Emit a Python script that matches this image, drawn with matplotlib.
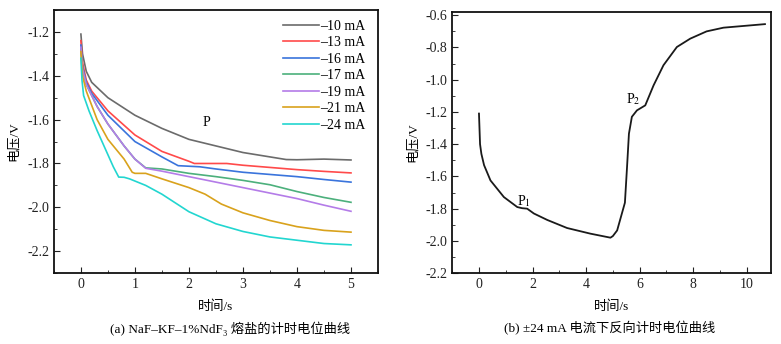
import matplotlib.pyplot as plt
from matplotlib.ticker import MultipleLocator

plt.rcParams['font.family'] = ['Liberation Serif', 'Noto Sans CJK SC',
                               'DejaVu Sans']
plt.rcParams['mathtext.fontset'] = 'stix'
plt.rcParams['axes.unicode_minus'] = False

# (a) 不同电流下的计时电位曲线
labels_a = ['–10 mA', '–13 mA', '–16 mA', '–17 mA', '–19 mA', '–21 mA', '–24 mA']
colores_a = ['#6b6b6b', '#ff4a4a', '#3a74dc', '#4cb07c', '#b47ce8', '#d9a21c', '#22d6d0']

t_10 = [0, 0.03, 0.1, 0.2, 0.5, 1, 1.5, 2, 2.5, 3, 3.5, 3.8, 4, 4.5, 5]
v_10 = [-1.21, -1.30, -1.38, -1.43, -1.50, -1.58, -1.64, -1.69, -1.72, -1.75,
        -1.77, -1.782, -1.783, -1.78, -1.784]
t_13 = [0, 0.03, 0.1, 0.2, 0.5, 1, 1.5, 2, 2.1, 2.5, 2.7, 3, 3.5, 4, 4.5, 5]
v_13 = [-1.24, -1.34, -1.42, -1.47, -1.56, -1.67, -1.745, -1.79, -1.80,
        -1.80, -1.80, -1.808, -1.818, -1.828, -1.836, -1.843]
t_16 = [0, 0.03, 0.1, 0.2, 0.5, 1, 1.5, 1.8, 2.2, 2.5, 3, 3.5, 4, 4.5, 5]
v_16 = [-1.26, -1.36, -1.43, -1.48, -1.58, -1.70, -1.77, -1.81, -1.815,
        -1.825, -1.84, -1.85, -1.86, -1.873, -1.885]
t_17 = [0, 0.03, 0.1, 0.3, 0.5, 0.8, 1, 1.2, 1.5, 2, 2.5, 3, 3.5, 4, 4.5, 5]
v_17 = [-1.28, -1.37, -1.44, -1.54, -1.62, -1.72, -1.78, -1.82, -1.825,
        -1.845, -1.86, -1.877, -1.897, -1.928, -1.955, -1.977]
t_19 = [0, 0.03, 0.1, 0.3, 0.5, 0.8, 1, 1.2, 1.5, 2, 2.5, 3, 3.5, 4, 4.5, 5]
v_19 = [-1.27, -1.37, -1.44, -1.54, -1.62, -1.72, -1.78, -1.822, -1.835,
        -1.86, -1.885, -1.91, -1.935, -1.96, -1.99, -2.018]
t_21 = [0, 0.03, 0.1, 0.3, 0.5, 0.8, 0.95, 1, 1.2, 1.5, 2, 2.3, 2.6, 3, 3.5,
        4, 4.5, 5]
v_21 = [-1.29, -1.40, -1.47, -1.60, -1.69, -1.78, -1.84, -1.845, -1.845,
        -1.87, -1.91, -1.94, -1.985, -2.025, -2.06, -2.088, -2.105, -2.113]
t_24 = [0, 0.02, 0.05, 0.15, 0.3, 0.5, 0.6, 0.7, 0.8, 0.9, 1.2, 1.5, 2, 2.5,
        3, 3.5, 4, 4.5, 5]
v_24 = [-1.32, -1.42, -1.49, -1.56, -1.65, -1.76, -1.815, -1.862, -1.863,
        -1.87, -1.90, -1.94, -2.02, -2.075, -2.11, -2.135, -2.15, -2.165,
        -2.171]
tiempos_a = [t_10, t_13, t_16, t_17, t_19, t_21, t_24]
voltajes_a = [v_10, v_13, v_16, v_17, v_19, v_21, v_24]

# (b) ±24 mA 反向计时电位曲线
t_b = [0, 0.04, 0.09, 0.19, 0.43, 0.93, 1.43, 1.61, 1.8, 2.05, 2.55, 3.29,
       4.16, 4.91, 5.0, 5.16, 5.45, 5.53, 5.6, 5.71, 5.9, 6.21, 6.52, 6.89,
       7.39, 7.89, 8.5, 9.13, 10.68]
v_b = [-1.21, -1.40, -1.46, -1.53, -1.625, -1.728, -1.79, -1.797, -1.80,
       -1.83, -1.87, -1.92, -1.955, -1.98, -1.97, -1.935, -1.763, -1.54,
       -1.335, -1.23, -1.19, -1.159, -1.035, -0.91, -0.797, -0.745, -0.70,
       -0.677, -0.655]

fig = plt.figure(figsize=(7.81, 3.44), dpi=100)
ax1 = fig.add_axes([0.069, 0.206, 0.415, 0.765])
ax2 = fig.add_axes([0.579, 0.206, 0.408, 0.759])

for t, v, lab, col in zip(tiempos_a, voltajes_a, labels_a, colores_a):
    ax1.plot(t, v, color=col, lw=1.2, label=lab)
ax1.set_xlim(-0.5, 5.5)
ax1.set_ylim(-2.3, -1.1)
ax1.xaxis.set_major_locator(MultipleLocator(1))
ax1.xaxis.set_minor_locator(MultipleLocator(0.5))
ax1.yaxis.set_minor_locator(MultipleLocator(0.1))
ax1.set_yticks([-1.2, -1.4, -1.6, -1.8, -2.0, -2.2])
ax1.set_yticklabels(['-1.2', '-1.4', '-1.6', '-1.8', '-2.0', '-2.2'])
ax1.text(2.33, -1.612, 'P', fontsize=10, ha='center', va='center')
ax1.legend(loc='upper right', frameon=False, fontsize=10, handlelength=2.6,
           handletextpad=0.05, labelspacing=0.25, borderaxespad=0.3,
           bbox_to_anchor=(0.99, 1.0))

ax2.plot(t_b, v_b, color='#1a1a1a', lw=1.3)
ax2.set_xlim(-1, 10.9)
ax2.set_ylim(-2.2, -0.58)
ax2.xaxis.set_major_locator(MultipleLocator(2))
ax2.xaxis.set_minor_locator(MultipleLocator(1))
ax2.yaxis.set_minor_locator(MultipleLocator(0.1))
ax2.set_yticks([-2.2, -2.0, -1.8, -1.6, -1.4, -1.2, -1.0, -0.8, -0.6])
ax2.set_yticklabels(['-2.2', '-2.0', '-1.8', '-1.6', '-1.4', '-1.2', '-1.0',
                     '-0.8', '-0.6'])
ax2.text(1.68, -1.75, 'P$_1$', fontsize=10, ha='center', va='center')
ax2.text(5.78, -1.12, 'P$_2$', fontsize=10, ha='center', va='center')

for ax in (ax1, ax2):
    for s in ax.spines.values():
        s.set_linewidth(1.3)
        s.set_color('#111111')
    ax.tick_params(which='both', direction='in', labelsize=10,
                   colors='#222222')
    ax.tick_params(which='major', length=4)
    ax.tick_params(which='minor', length=2)
    ax.set_xlabel('时间/s', fontsize=9.5, labelpad=7)
    ax.set_ylabel('电压/V', fontsize=9.5, labelpad=5)

fig.text(0.295, 0.045, '(a) NaF–KF–1%NdF₃ 熔盐的计时电位曲线', fontsize=9.5,
         ha='center', va='center')
fig.text(0.781, 0.045, '(b) ±24 mA 电流下反向计时电位曲线', fontsize=9.5,
         ha='center', va='center')

fig.savefig('out.png', dpi=100)
